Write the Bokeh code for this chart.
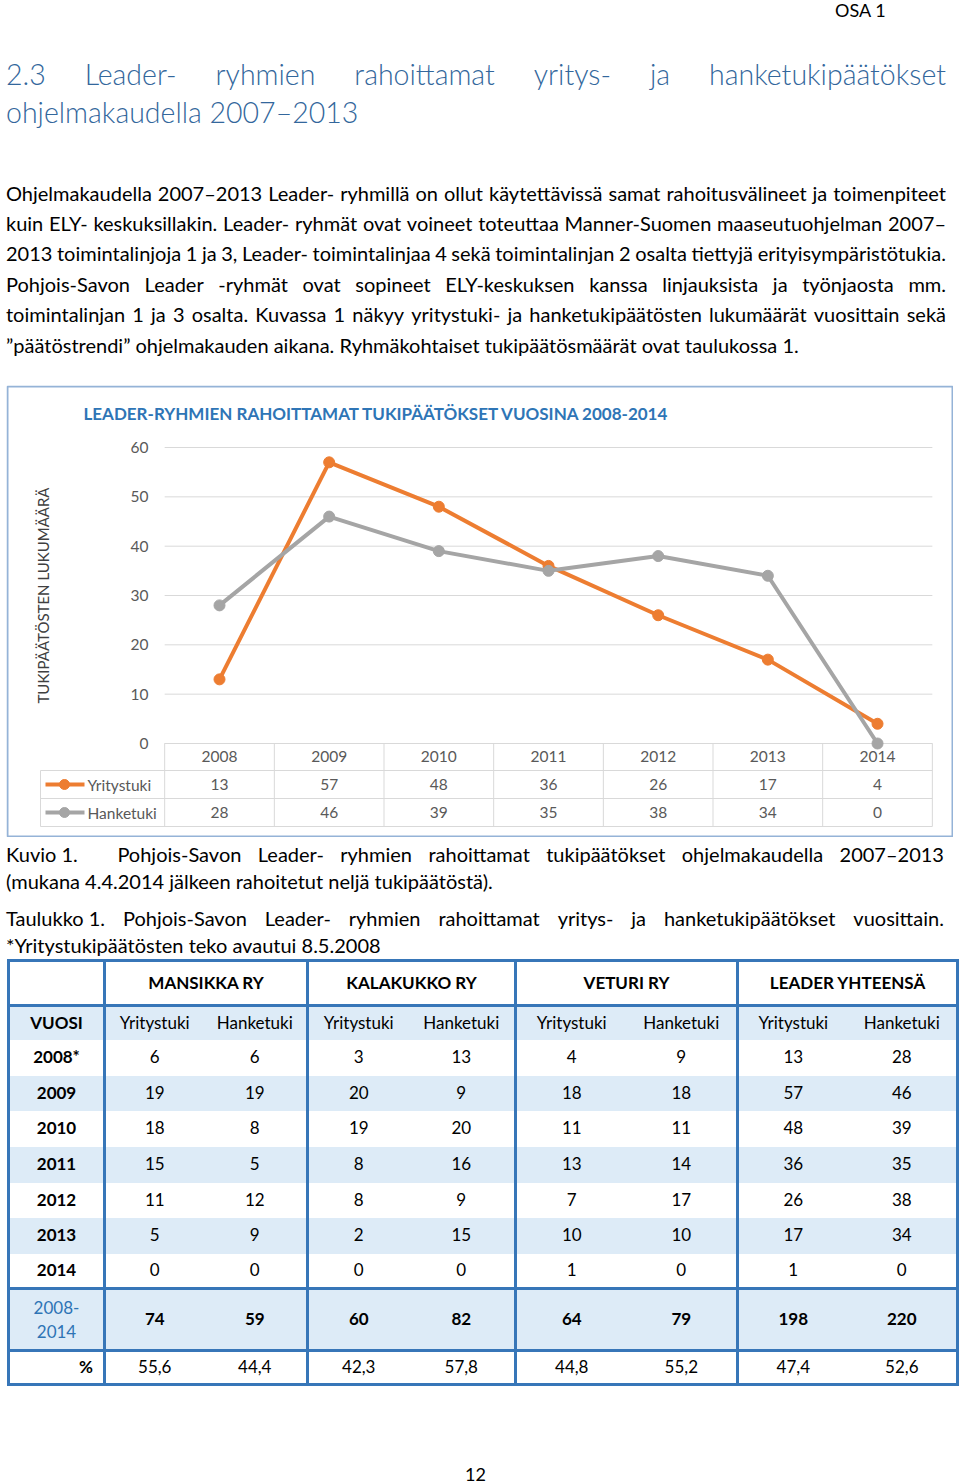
import math
from bokeh.plotting import figure
from bokeh.models import Div, Range1d
from bokeh.layouts import column
from bokeh.embed import file_html
from bokeh.resources import INLINE
from bokeh.core.properties import value

# ------------------------------------------------------------------ data
YEARS = ["2008", "2009", "2010", "2011", "2012", "2013", "2014"]
SERIES = ["Yritystuki", "Hanketuki"]
YRITYSTUKI = [13, 57, 48, 36, 26, 17, 4]
HANKETUKI = [28, 46, 39, 35, 38, 34, 0]
Y_TICKS = [0, 10, 20, 30, 40, 50, 60]
CHART_TITLE = "LEADER-RYHMIEN RAHOITTAMAT TUKIPÄÄTÖKSET VUOSINA 2008-2014"
Y_LABEL = "TUKIPÄÄTÖSTEN LUKUMÄÄRÄ"

TABLE_YEARS = ["2008*", "2009", "2010", "2011", "2012", "2013", "2014"]
GROUPS = ["MANSIKKA RY", "KALAKUKKO RY", "VETURI RY", "LEADER YHTEENSÄ"]
SUB_HEADERS = ["Yritystuki", "Hanketuki"]
MANSIKKA_Y = [6, 19, 18, 15, 11, 5, 0]
MANSIKKA_H = [6, 19, 8, 5, 12, 9, 0]
KALAKUKKO_Y = [3, 20, 19, 8, 8, 2, 0]
KALAKUKKO_H = [13, 9, 20, 16, 9, 15, 0]
VETURI_Y = [4, 18, 11, 13, 7, 10, 1]
VETURI_H = [9, 18, 11, 14, 17, 10, 0]
LEADER_Y = [13, 57, 48, 36, 26, 17, 1]
LEADER_H = [28, 46, 39, 35, 38, 34, 0]
TOTAL_LABEL = ["2008-", "2014"]
TOTALS = [74, 59, 60, 82, 64, 79, 198, 220]
PERCENTS = ["55,6", "44,4", "42,3", "57,8", "44,8", "55,2", "47,4", "52,6"]

HEADING = [["2.3", "Leader-", "ryhmien", "rahoittamat", "yritys-", "ja", "hanketukipäätökset"],
           ["ohjelmakaudella 2007–2013"]]
PARAGRAPH = [
    "Ohjelmakaudella 2007–2013 Leader- ryhmillä on ollut käytettävissä samat rahoitusvälineet ja toimenpiteet",
    "kuin ELY- keskuksillakin. Leader- ryhmät ovat voineet toteuttaa Manner-Suomen maaseutuohjelman 2007–",
    "2013 toimintalinjoja 1 ja 3, Leader- toimintalinjaa 4 sekä toimintalinjan 2 osalta tiettyjä erityisympäristötukia.",
    "Pohjois-Savon Leader -ryhmät ovat sopineet ELY-keskuksen kanssa linjauksista ja työnjaosta mm.",
    "toimintalinjan 1 ja 3 osalta. Kuvassa 1 näkyy yritystuki- ja hanketukipäätösten lukumäärät vuosittain sekä",
    "”päätöstrendi” ohjelmakauden aikana. Ryhmäkohtaiset tukipäätösmäärät ovat taulukossa 1.",
]
CAPTION = ["Kuvio 1.", "Pohjois-Savon Leader- ryhmien rahoittamat tukipäätökset ohjelmakaudella 2007–2013",
           "(mukana 4.4.2014 jälkeen rahoitetut neljä tukipäätöstä)."]
TABLE_CAPTION = ["Taulukko 1.", "Pohjois-Savon Leader- ryhmien rahoittamat yritys- ja hanketukipäätökset vuosittain.",
                 "*Yritystukipäätösten teko avautui 8.5.2008"]
SECTION = "OSA 1"
PAGE_NO = "12"

# ------------------------------------------------------------------ styles
FONT = "Lato"
PAGE_W = 951
ORANGE = "#ED7D31"
GREY = "#A5A5A5"
HEAD_BLUE = "#33679C"
TBL_BLUE = "#3776B8"
BAND = "#DDEBF7"


def jline(words, top, h, width, style):
    spans = "".join(w if w.startswith("<span") else f"<span>{w}</span>" for w in words)
    return (f'<div style="position:absolute;left:0;top:{top}px;width:{width}px;height:{h}px;'
            f'line-height:{h}px;display:flex;justify-content:space-between;white-space:nowrap;{style}">{spans}</div>')


def pline(text, top, h, style, left=0):
    return (f'<div style="position:absolute;left:{left}px;top:{top}px;height:{h}px;line-height:{h}px;'
            f'white-space:nowrap;{style}">{text}</div>')


# ------------------------------------------------------------------ top text
body_css = f"font-family:'{FONT}',sans-serif;font-size:20px;color:#000;"
head_css = f"font-family:'{FONT}',sans-serif;font-size:28.5px;font-weight:300;color:{HEAD_BLUE};"
TOP_H = 385
top_parts = [pline(SECTION, 0, 20, body_css + "font-size:18px;", left=829)]
top_parts.append(jline(HEADING[0], 74 - 19, 38, 940, head_css))
top_parts.append(pline(HEADING[1][0], 112 - 19, 38, head_css))
para_centers = [193, 223, 253, 284, 314, 345]
for i, (line, c) in enumerate(zip(PARAGRAPH, para_centers)):
    if i < len(PARAGRAPH) - 1:
        top_parts.append(jline(line.split(" "), c - 13, 26, 940, body_css))
    else:
        top_parts.append(pline(line, c - 13, 26, body_css))
top_div = Div(text=f'<div style="position:relative;width:{PAGE_W}px;height:{TOP_H}px;">' + "".join(top_parts) + "</div>",
              width=PAGE_W, height=TOP_H, margin=(0, 0, 0, 0))

# ------------------------------------------------------------------ chart
W, H = 947, 452
CAT_PX, CAT0_PX = 109.67, 213.0
VAL_PX, ZERO_PX = 4.933, 358.0
n = len(YEARS)
xs = list(range(n))


def dx(px):
    return (px - CAT0_PX) / CAT_PX


p = figure(width=W, height=H, x_range=Range1d(dx(0), dx(W)),
           y_range=Range1d(-(H - ZERO_PX) / VAL_PX, ZERO_PX / VAL_PX),
           x_axis_location=None, y_axis_location=None, toolbar_location=None,
           output_backend="svg", min_border=0, outline_line_color=None,
           background_fill_color="white", border_fill_color="white", margin=(0, 0, 0, 0))
p.grid.visible = False
p.extra_x_ranges = {"px": Range1d(0, W)}
p.extra_y_ranges = {"px": Range1d(H, 0)}

# box border
p.quad(left=[1], right=[W - 1], top=[1], bottom=[H - 1], x_range_name="px", y_range_name="px",
       fill_alpha=0, line_color="#95B3D7", line_width=2)

# gridlines
p.segment(x0=[-0.5] * len(Y_TICKS), x1=[n - 0.5] * len(Y_TICKS), y0=Y_TICKS, y1=Y_TICKS,
          line_color="#D9D9D9", line_width=1)

txt = dict(text_font=value(FONT), text_font_size="15.5px", text_color="#595959", text_baseline="middle")
p.text(x=[142] * len(Y_TICKS), y=Y_TICKS, text=[str(t) for t in Y_TICKS], x_range_name="px",
       text_align="right", **txt)
p.text(x=[36], y=[210], text=[Y_LABEL], x_range_name="px", y_range_name="px", angle=math.pi / 2,
       text_align="center", text_font=value(FONT), text_font_size="15px", text_color="#404040",
       text_baseline="middle")
p.text(x=[77], y=[28], text=[CHART_TITLE], x_range_name="px", y_range_name="px", text_align="left",
       text_baseline="middle", text_font=value(FONT), text_font_size="17px", text_font_style="bold",
       text_color="#2E75B6")

# data table inside chart
row_lines = [358, 385, 413, 441]
leg_left = dx(34)
p.segment(x0=[-0.5], x1=[n - 0.5], y0=[row_lines[0]], y1=[row_lines[0]], y_range_name="px",
          line_color="#D9D9D9", line_width=1)
p.segment(x0=[leg_left] * 3, x1=[n - 0.5] * 3, y0=row_lines[1:], y1=row_lines[1:], y_range_name="px",
          line_color="#D9D9D9", line_width=1)
vx = [i - 0.5 for i in range(n + 1)]
p.segment(x0=vx, x1=vx, y0=[row_lines[0]] * len(vx), y1=[row_lines[-1]] * len(vx), y_range_name="px",
          line_color="#D9D9D9", line_width=1)
p.segment(x0=[leg_left], x1=[leg_left], y0=[row_lines[1]], y1=[row_lines[-1]], y_range_name="px",
          line_color="#D9D9D9", line_width=1)

row_c = [371, 399, 427]
p.text(x=xs, y=[row_c[0]] * n, text=YEARS, y_range_name="px", text_align="center", **txt)
for vals, yc in ((YRITYSTUKI, row_c[1]), (HANKETUKI, row_c[2])):
    p.text(x=xs, y=[yc] * n, text=[str(v) for v in vals], y_range_name="px", text_align="center", **txt)

for name, col, yc in ((SERIES[0], ORANGE, row_c[1]), (SERIES[1], GREY, row_c[2])):
    p.segment(x0=[dx(39)], x1=[dx(78)], y0=[yc], y1=[yc], y_range_name="px", line_color=col, line_width=4)
    p.scatter(x=[dx(58)], y=[yc], y_range_name="px", marker="circle", size=10, fill_color=col, line_color=col)
    p.text(x=[dx(81)], y=[yc], text=[name], y_range_name="px", text_align="left", **txt)

# series
for vals, col in ((YRITYSTUKI, ORANGE), (HANKETUKI, GREY)):
    p.line(x=xs, y=vals, line_color=col, line_width=4, line_join="round")
    p.scatter(x=xs, y=vals, marker="circle", size=11, fill_color=col, line_color=col)

# ------------------------------------------------------------------ bottom text + table
BOT_H = 1484 - TOP_H - H
bot_parts = []
cap_words = [f'<span style="display:inline-block;width:95px">{CAPTION[0]}</span>'] + CAPTION[1].split(" ")
bot_parts.append(jline(cap_words, 17 - 13, 26, 938, body_css))
bot_parts.append(pline(CAPTION[2], 44 - 13, 26, body_css))
tc_words = [TABLE_CAPTION[0]] + TABLE_CAPTION[1].split(" ")
bot_parts.append(jline(tc_words, 81 - 13, 26, 938, body_css))
bot_parts.append(pline(TABLE_CAPTION[2], 108 - 13, 26, body_css))

B = f"3px solid {TBL_BLUE}"
col_w = [96, 99, 104, 101, 107, 111, 111, 110, 110]
TABLE_W = sum(col_w)
tcss = f"font-family:'{FONT}',sans-serif;font-size:17px;color:#000;"


def cell(content, j, extra=""):
    left = f"border-left:{B};" if j in (1, 3, 5, 7) else ""
    return f'<td style="padding:0;text-align:center;vertical-align:middle;{left}{extra}">{content}</td>'


rows = []
hdr = cell("", 0, f"border-bottom:{B};")
for g in GROUPS:
    hdr += (f'<td colspan="2" style="padding:0;text-align:center;vertical-align:middle;border-left:{B};'
            f'border-bottom:{B};font-weight:bold;">{g}</td>')
rows.append(f'<tr style="height:45px;">{hdr}</tr>')
sub = cell("VUOSI", 0, "font-weight:bold;")
for j in range(1, 9):
    sub += cell(SUB_HEADERS[(j - 1) % 2], j)
rows.append(f'<tr style="height:34px;background:{BAND};">{sub}</tr>')
groups_data = [MANSIKKA_Y, MANSIKKA_H, KALAKUKKO_Y, KALAKUKKO_H, VETURI_Y, VETURI_H, LEADER_Y, LEADER_H]
row_h = [36, 35, 36, 36, 35, 36, 35]
for i, yr in enumerate(TABLE_YEARS):
    r = cell(yr, 0, "font-weight:bold;")
    for j, arr in enumerate(groups_data, start=1):
        r += cell(str(arr[i]), j)
    bg = f"background:{BAND};" if i % 2 == 1 else ""
    rows.append(f'<tr style="height:{row_h[i]}px;{bg}">{r}</tr>')
r = cell("<br>".join(TOTAL_LABEL), 0, f"border-top:{B};color:#2E74B5;line-height:24px;")
for j, v in enumerate(TOTALS, start=1):
    r += cell(str(v), j, f"border-top:{B};font-weight:bold;")
rows.append(f'<tr style="height:62px;background:{BAND};">{r}</tr>')
r = f'<td style="padding:0 10px 0 0;text-align:right;vertical-align:middle;border-top:{B};font-weight:bold;">%</td>'
for j, v in enumerate(PERCENTS, start=1):
    r += cell(v, j, f"border-top:{B};")
rows.append(f'<tr style="height:34px;">{r}</tr>')

colgroup = "".join(f'<col style="width:{w}px">' for w in col_w)
table_html = (f'<table style="position:absolute;left:1px;top:122px;width:{TABLE_W}px;border-collapse:collapse;'
              f'table-layout:fixed;border:{B};{tcss}"><colgroup>{colgroup}</colgroup>' + "".join(rows) + "</table>")
bot_parts.append(table_html)
bot_parts.append(f'<div style="position:absolute;left:0;top:626px;width:{PAGE_W - 12}px;text-align:center;'
                 f'height:22px;line-height:22px;{body_css}font-size:18px;">{PAGE_NO}</div>')
bottom_div = Div(text=f'<div style="position:relative;width:{PAGE_W}px;height:{BOT_H}px;">' + "".join(bot_parts) + "</div>",
                 width=PAGE_W, height=BOT_H, margin=(0, 0, 0, 0))

layout = column(top_div, p, bottom_div, spacing=0, margin=(0, 0, 0, 6))
with open("out.html", "w", encoding="utf-8") as f:
    f.write(file_html(layout, INLINE))
